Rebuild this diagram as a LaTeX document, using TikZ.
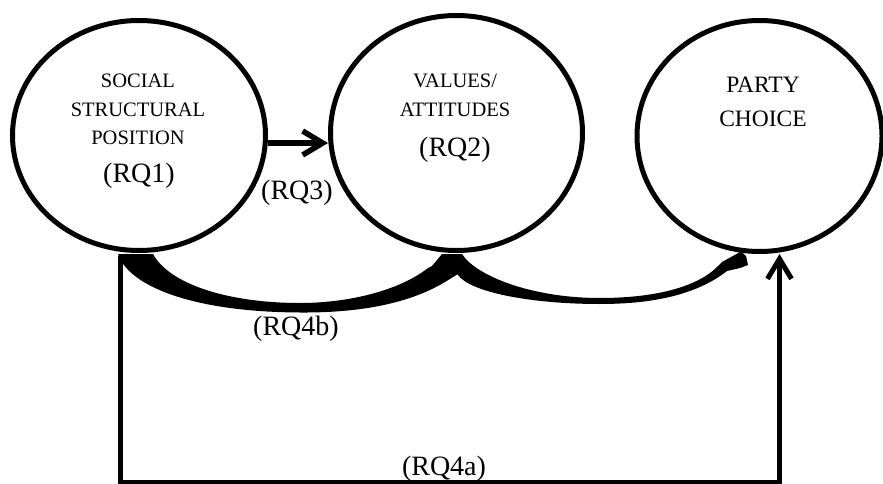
\documentclass[tikz,border=0pt]{standalone}
\usepackage{fontspec}
\setmainfont{Liberation Serif}
\usetikzlibrary{shapes.geometric,arrows.meta}

\tikzset{
  bubble/.style={ellipse, draw, line width=5pt, inner sep=0pt},
  caps/.style={anchor=base, inner sep=0pt, font=\fontsize{20.5}{24}\selectfont},
  bigcaps/.style={anchor=base, inner sep=0pt, font=\fontsize{23.5}{27}\selectfont},
  rq/.style={anchor=base, inner sep=0pt, font=\fontsize{28}{32}\selectfont},
  conn/.style={draw, line width=5pt, line join=miter},
  barb/.style={-{Straight Barb[length=20pt,width=24pt]}},
  band/.style={fill=black, draw=none}
}

\begin{document}
\begin{tikzpicture}[x=1pt,y=-1pt]
\useasboundingbox (0,0) rectangle (883,484);

% curved band from social position to values/attitudes (RQ4b)
\path[band] (118,254) .. controls (128,285) and (190,312) .. (300,312.5)
  .. controls (370,313) and (415,300) .. (445,282)
  -- (458,274) -- (462,254) -- (442,254) -- (432,266) -- (428,268)
  .. controls (400,290) and (350,303) .. (300,303)
  .. controls (230,303) and (170,285) .. (153,254) -- cycle;

% curved band from values/attitudes to party choice
\path[band] (462,254) .. controls (475,275) and (530,298) .. (600,298)
  .. controls (660,298) and (700,285) .. (718,266)
  -- (722,262) -- (741,251.5) -- (746,256) -- (748,265) -- (740,268) -- (727,271)
  .. controls (700,292) and (660,304) .. (600,304)
  .. controls (530,304) and (470,292) .. (458,275)
  -- (443,254) -- cycle;

% the three constructs
\node[bubble, minimum width=253pt, minimum height=230pt] (E1) at (139,135.5) {};
\node[bubble, minimum width=252pt, minimum height=235pt] (E2) at (456.5,133) {};
\node[bubble, minimum width=245pt, minimum height=231pt] (E3) at (759.5,136) {};

% texts inside the constructs
\node[caps] (t11) at (138,88) {SOCIAL};
\node[caps] (t12) at (138,117) {STRUCTURAL};
\node[caps] (t13) at (138,145) {POSITION};
\node[rq]   (t14) at (139,182) {(RQ1)};

\node[caps] (t21) at (455,88) {VALUES/};
\node[caps] (t22) at (455,117) {ATTITUDES};
\node[rq]   (t23) at (455,157) {(RQ2)};

\node[bigcaps] (t31) at (763,93) {PARTY};
\node[bigcaps] (t32) at (763,127) {CHOICE};

% direct effect of position on values
\draw[conn, line width=5.5pt, barb] ([yshift=-7.5pt]E1.east) -- ([yshift=-10pt]E2.west);
\node[rq] (l3) at (297,199) {(RQ3)};

% direct effect of position on party choice
\coordinate (s1) at (120.5,256);
\coordinate (br) at (779.5,482.5);
\draw[conn, barb] (s1) |- (br) -- (E3.south -| br);
\node[rq] (l4a) at (444,475) {(RQ4a)};

\node[rq] (l4b) at (296,335) {(RQ4b)};
\end{tikzpicture}
\end{document}
